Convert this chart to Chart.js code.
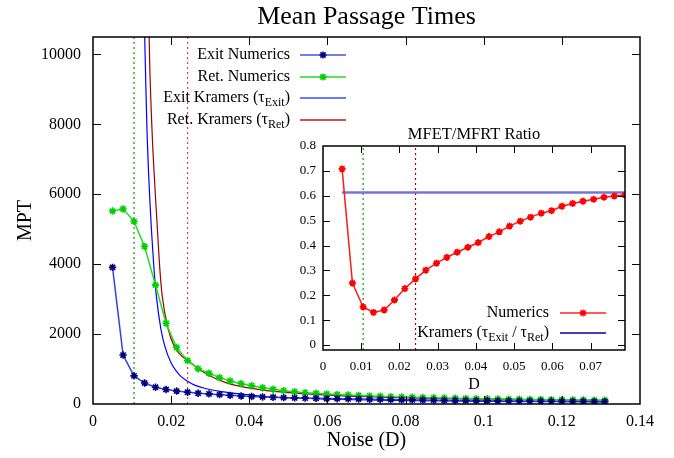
<!DOCTYPE html>
<html><head><meta charset="utf-8">
<script src="https://cdn.jsdelivr.net/npm/chart.js@4/dist/chart.umd.min.js"></script>
<style>
html,body{margin:0;padding:0;background:#fff;}
#wrap{position:relative;width:674px;height:458px;overflow:hidden;}
#main{position:absolute;left:0;top:0;}
#inset{position:absolute;left:280px;top:118px;}
</style></head><body>
<div id="wrap">
<canvas id="main" width="674" height="458"></canvas>
<canvas id="inset" width="360" height="280"></canvas>
</div>
<script>
// ---------- data ----------
const noiseD = [0.0050,0.0077,0.0105,0.0132,0.0160,0.0187,0.0214,0.0242,0.0269,0.0297,
  0.0324,0.0351,0.0379,0.0406,0.0434,0.0461,0.0488,0.0516,0.0543,0.0571,
  0.0598,0.0625,0.0653,0.0680,0.0708,0.0735,0.0762,0.0790,0.0817,0.0844,
  0.0872,0.0899,0.0927,0.0954,0.0981,0.1009,0.1036,0.1064,0.1091,0.1118,
  0.1146,0.1173,0.1200,0.1228,0.1255,0.1283,0.1310];
const exitNumerics = [3910,1400,805,600,478,415,370,337,308,289,
  267,248,229,213,202,192,182,175,167,162,
  155,152,146,141,136,131,126,122,117,113,
  109,105,101,97,95,92,88,86,83,81,
  78,77,74,72,70,69,67];
const retNumerics = [5520,5580,5225,4505,3400,2310,1615,1240,1010,880,
  755,660,582,524,467,421,381,352,324,306,
  287,272,257,244,232,221,211,202,194,186,
  179,172,166,160,155,150,145,140,136,132,
  128,125,121,118,115,112,110];
const exitKramersD = [0.0130,0.0134,0.0138,0.0145,0.0155,0.0162,0.0174,0.0184,0.0200,0.0215,
  0.0225,0.0242,0.0260,0.0285,0.0330,0.0380,0.0440,0.0500,0.0600,0.0700,
  0.0800,0.0900,0.1000,0.1100,0.1200,0.1310];
const exitKramers = [11600,9700,7900,5950,4050,3100,2130,1650,1170,920,
  790,650,540,450,355,280,215,180,140,115,
  98,86,77,70,64,59];
const retKramersD = [0.0140,0.0145,0.0151,0.0160,0.0170,0.0177,0.0193,0.0208,0.0224,0.0242,
  0.0270,0.0300,0.0340,0.0380,0.0430,0.0500,0.0600,0.0700,0.0800,0.0900,
  0.1000,0.1100,0.1200,0.1310];
const retKramers = [12600,9800,7850,5900,4030,3100,2124,1647,1408,1245,
  1010,800,610,495,405,325,255,210,178,155,
  138,125,114,105];
const ratioD = noiseD.slice(0, 28);
const ratioNumerics = [0.708,0.249,0.153,0.131,0.141,0.181,0.227,0.266,0.301,0.329,
  0.352,0.373,0.393,0.412,0.436,0.455,0.478,0.498,0.514,0.530,
  0.540,0.558,0.569,0.578,0.586,0.594,0.599,0.603];
const ratioKramers = 0.613;
const guideD = [0.0105, 0.0242];

const mainXRange = [0, 0.14];
const mainYRange = [0, 10500];
const insetXRange = [0, 0.079];
const insetYRange = [-0.02, 0.8];
const mainXTickValues = [0, 0.02, 0.04, 0.06, 0.08, 0.1, 0.12, 0.14];
const mainYTickValues = [0, 2000, 4000, 6000, 8000, 10000];
const insetXTickValues = [0, 0.01, 0.02, 0.03, 0.04, 0.05, 0.06, 0.07];
const insetYTickValues = [0, 0.1, 0.2, 0.3, 0.4, 0.5, 0.6, 0.7, 0.8];

// ---------- helpers ----------
const FAM = "'Liberation Serif','Times New Roman',serif";
Chart.defaults.font.family = FAM;
Chart.defaults.color = '#000';
const pts = (xs, ys) => ys.map((v, i) => ({x: xs[i], y: v}));
const fmt = v => String(Math.round(v * 1e6) / 1e6);

function drawStar(ctx, x, y, r, color, lw) {
  ctx.save();
  ctx.strokeStyle = color; ctx.lineWidth = lw;
  ctx.beginPath();
  ctx.moveTo(x - r, y); ctx.lineTo(x + r, y);
  ctx.moveTo(x, y - r); ctx.lineTo(x, y + r);
  const d = r * 0.75;
  ctx.moveTo(x - d, y - d); ctx.lineTo(x + d, y + d);
  ctx.moveTo(x - d, y + d); ctx.lineTo(x + d, y - d);
  ctx.stroke();
  ctx.restore();
}
function drawRich(ctx, parts, xRight, y, size, subSize) {
  let w = 0;
  parts.forEach(p => { ctx.font = (p[1] ? subSize : size) + 'px ' + FAM; p.w = ctx.measureText(p[0]).width; w += p.w; });
  let x = xRight - w;
  ctx.textAlign = 'left'; ctx.textBaseline = 'middle'; ctx.fillStyle = '#000';
  parts.forEach(p => { ctx.font = (p[1] ? subSize : size) + 'px ' + FAM; ctx.fillText(p[0], x, y + (p[1] ? 5 : 0)); x += p.w; });
}

const framePlugin = {
  id: 'frame',
  afterDatasetsDraw(chart, args, o) {
    const {ctx, chartArea: a, scales: {x, y}} = chart;
    ctx.save();
    ctx.strokeStyle = '#000';
    ctx.lineWidth = 1;
    ctx.beginPath();
    x.ticks.forEach(t => {
      const p = Math.round(x.getPixelForValue(t.value)) + 0.5;
      if (p <= a.left + 2 || p >= a.right - 2) return;
      ctx.moveTo(p, a.bottom); ctx.lineTo(p, a.bottom - o.len);
      ctx.moveTo(p, a.top); ctx.lineTo(p, a.top + o.len);
    });
    y.ticks.forEach(t => {
      const p = Math.round(y.getPixelForValue(t.value)) + 0.5;
      if (p <= a.top + 2 || p >= a.bottom - 2) return;
      ctx.moveTo(a.left, p); ctx.lineTo(a.left + o.len, p);
      ctx.moveTo(a.right, p); ctx.lineTo(a.right - o.len, p);
    });
    ctx.stroke();
    ctx.lineWidth = 1.5;
    ctx.strokeRect(a.left, a.top, a.right - a.left, a.bottom - a.top);
    if (o.title) {
      ctx.font = o.title.size + 'px ' + FAM;
      ctx.fillStyle = '#000'; ctx.textAlign = 'center'; ctx.textBaseline = 'middle';
      ctx.fillText(o.title.text, (a.left + a.right) / 2 + (o.title.dx || 0), o.title.y);
    }
    ctx.restore();
  }
};

const legendPlugin = {
  id: 'gpLegend',
  afterDraw(chart, args, o) {
    const ctx = chart.ctx;
    ctx.save();
    o.items.forEach((it, i) => {
      const y = Math.round(o.y0 + i * o.dy);
      drawRich(ctx, it.parts, o.textRight, y, 16, 12);
      ctx.strokeStyle = it.color; ctx.lineWidth = it.lw || 1.5;
      ctx.beginPath(); ctx.moveTo(o.s0, y); ctx.lineTo(o.s1, y); ctx.stroke();
      if (it.marker) drawStar(ctx, (o.s0 + o.s1) / 2, y, 3.5, it.marker, 1.5);
    });
    ctx.restore();
  }
};

function axis(range, tickValues, fontSize, pad, extra) {
  return Object.assign({
    type: 'linear', min: range[0], max: range[1],
    afterBuildTicks(s) { s.ticks = tickValues.map(v => ({value: v})); },
    ticks: {autoSkip: false, maxRotation: 0, callback: v => fmt(v), color: '#000', font: {size: fontSize}, padding: pad},
    grid: {display: false, drawTicks: false},
    border: {display: false}
  }, extra);
}

const guide = (d, ymin, ymax, color) => ({
  data: [{x: d, y: ymin}, {x: d, y: ymax}], showLine: true, borderColor: color,
  borderWidth: 1.2, borderDash: [2, 3], pointRadius: 0
});

// ---------- main chart ----------
new Chart(document.getElementById('main'), {
  type: 'scatter',
  data: {datasets: [
    {label: 'Exit Numerics', data: pts(noiseD, exitNumerics), showLine: true, borderColor: '#3344dd', borderWidth: 1.5,
     pointStyle: 'star', pointRadius: 3.7, pointBorderColor: '#00007f', pointBackgroundColor: '#00007f', pointBorderWidth: 1.6},
    {label: 'Ret. Numerics', data: pts(noiseD, retNumerics), showLine: true, borderColor: '#22dd22', borderWidth: 1.5,
     pointStyle: 'star', pointRadius: 3.7, pointBorderColor: '#00d000', pointBackgroundColor: '#00d000', pointBorderWidth: 1.6},
    {label: 'Exit Kramers', data: pts(exitKramersD, exitKramers), showLine: true, borderColor: '#0000ff', borderWidth: 1.2,
     pointRadius: 0, cubicInterpolationMode: 'monotone'},
    {label: 'Ret. Kramers', data: pts(retKramersD, retKramers), showLine: true, borderColor: '#a00000', borderWidth: 1.2,
     pointRadius: 0, cubicInterpolationMode: 'monotone'},
    guide(guideD[0], mainYRange[0], mainYRange[1], '#009a00'),
    guide(guideD[1], mainYRange[0], mainYRange[1], '#e04848')
  ]},
  options: {
    responsive: false, animation: false, devicePixelRatio: 1, events: [],
    layout: {padding: {left: 0, right: 34, top: 37, bottom: 0}},
    plugins: {
      legend: {display: false}, tooltip: {enabled: false}, title: {display: false},
      frame: {len: 8, title: {text: 'Mean Passage Times', size: 26, y: 17}},
      gpLegend: {
        y0: 55, dy: 21.5, textRight: 290, s0: 300, s1: 346,
        items: [
          {parts: [['Exit Numerics']], color: '#4455e0', marker: '#00007f'},
          {parts: [['Ret. Numerics']], color: '#22dd22', marker: '#00d000'},
          {parts: [['Exit Kramers (τ'], ['Exit', 1], [')']], color: '#3a4dff', lw: 1.4},
          {parts: [['Ret. Kramers (τ'], ['Ret', 1], [')']], color: '#b01818', lw: 1.4}
        ]
      }
    },
    scales: {
      x: axis(mainXRange, mainXTickValues, 16, 8, {
        title: {display: true, text: 'Noise (D)', font: {size: 20}, color: '#000', padding: {top: 0, bottom: 5}},
        afterFit(s) { s.height = 54; }
      }),
      y: axis(mainYRange, mainYTickValues, 16, 12, {
        title: {display: true, text: 'MPT', font: {size: 20}, color: '#000', padding: {top: 14, bottom: 0}},
        afterFit(s) { s.width = 93; }
      })
    }
  },
  plugins: [framePlugin, legendPlugin]
});

// ---------- inset chart ----------
new Chart(document.getElementById('inset'), {
  type: 'scatter',
  data: {datasets: [
    {label: 'Numerics', data: pts(ratioD, ratioNumerics), showLine: true, borderColor: '#ff1a1a', borderWidth: 1.5,
     pointStyle: 'star', pointRadius: 3.5, pointBorderColor: '#ff0000', pointBackgroundColor: '#ff0000', pointBorderWidth: 1.8},
    {label: 'Kramers', data: [{x: ratioD[0], y: ratioKramers}, {x: ratioD[ratioD.length - 1], y: ratioKramers}], showLine: true,
     borderColor: '#7474d8', borderWidth: 2.5, pointRadius: 0},
    guide(guideD[0], insetYRange[0], insetYRange[1], '#00a000'),
    guide(guideD[1], insetYRange[0], insetYRange[1], '#a00000')
  ]},
  options: {
    responsive: false, animation: false, devicePixelRatio: 1, events: [],
    layout: {padding: {left: 0, right: 15, top: 28, bottom: 0}},
    plugins: {
      legend: {display: false}, tooltip: {enabled: false}, title: {display: false},
      frame: {len: 7, title: {text: 'MFET/MFRT Ratio', size: 16.5, y: 17}},
      gpLegend: {
        y0: 194.5, dy: 20.5, textRight: 269, s0: 280, s1: 326,
        items: [
          {parts: [['Numerics']], color: '#ff5a5a', marker: '#ff0000', lw: 2},
          {parts: [['Kramers (τ'], ['Exit', 1], [' / τ'], ['Ret', 1], [')']], color: '#0000a0', lw: 1.3}
        ]
      }
    },
    scales: {
      x: axis(insetXRange, insetXTickValues, 13, 9, {
        title: {display: true, text: 'D', font: {size: 16}, color: '#000', padding: {top: 0, bottom: 4}},
        afterFit(s) { s.height = 48; }
      }),
      y: axis(insetYRange, insetYTickValues, 13, 7, {
        afterFit(s) { s.width = 43; }
      })
    }
  },
  plugins: [framePlugin, legendPlugin]
});
</script>
</body></html>
